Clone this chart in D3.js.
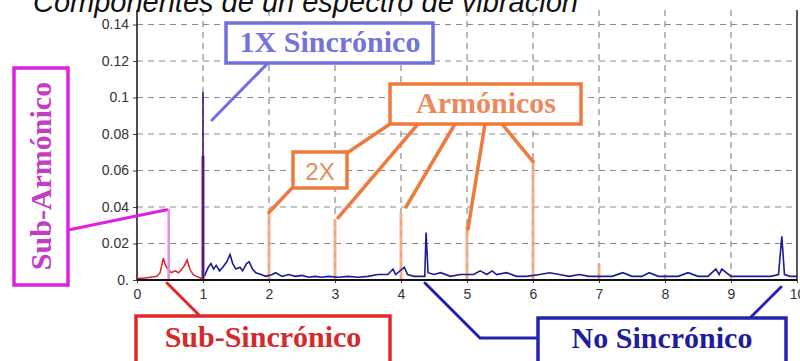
<!DOCTYPE html>
<html>
<head>
<meta charset="utf-8">
<script src="https://cdn.jsdelivr.net/npm/d3@7"></script>
<style>
  body { margin: 0; background: #fff; }
  svg { display: block; }
</style>
</head>
<body>
<div class="board"></div>
<script>
// DATA

var xTicks = [0, 1, 2, 3, 4, 5, 6, 7, 8, 9, 10];
var yTicks = [0, 0.02, 0.04, 0.06, 0.08, 0.1, 0.12, 0.14];
var yTickLabels = ['0.', '0.02', '0.04', '0.06', '0.08', '0.1', '0.12', '0.14'];

// sub-synchronous part of the spectrum (red), 0 - 1X
var subFreq = [0, 0.1, 0.2, 0.3, 0.35, 0.38, 0.4, 0.43, 0.47, 0.52, 0.58, 0.63, 0.68, 0.72, 0.76, 0.8, 0.85, 0.9, 0.97, 1.0];
var subAmp  = [0.001, 0.001, 0.0015, 0.002, 0.004, 0.009, 0.012, 0.008, 0.006, 0.004, 0.005, 0.004, 0.006, 0.008, 0.011, 0.006, 0.003, 0.002, 0.001, 0.001];

// sub-harmonic spike (about 0.5X)
var subHarmFreq = 0.48;
var subHarmAmp = 0.039;

// 1X synchronous spike
var oneXFreq = 1;
var oneXAmp = [0.103, 0.068];

// rest of the spectrum (blue), 1X - 10X
var restFreq = [1.02, 1.08, 1.12, 1.16, 1.2, 1.25, 1.3, 1.36, 1.41, 1.45, 1.5, 1.56, 1.6, 1.66, 1.7, 1.75, 1.8, 1.88, 1.95,
  2.05, 2.1, 2.2, 2.3, 2.4, 2.5, 2.6, 2.7, 2.8, 2.9, 3.05, 3.2, 3.35, 3.5, 3.65, 3.8, 3.88, 3.92, 4.05, 4.1, 4.2, 4.3,
  4.36, 4.38, 4.41, 4.5, 4.6, 4.75, 4.9, 5.1, 5.2, 5.3, 5.38, 5.45, 5.6, 5.75, 5.9, 6.1, 6.25, 6.4, 6.55, 6.7, 6.85,
  7.05, 7.2, 7.36, 7.5, 7.65, 7.76, 7.9, 8.1, 8.2, 8.35, 8.5, 8.65, 8.77, 8.82, 8.86, 9.0, 9.2, 9.4, 9.6, 9.72, 9.77, 9.81, 9.9, 10];
var restAmp  = [0.002, 0.007, 0.009, 0.006, 0.008, 0.005, 0.007, 0.01, 0.014, 0.009, 0.006, 0.007, 0.005, 0.009, 0.01, 0.006, 0.004, 0.003, 0.002,
  0.003, 0.004, 0.002, 0.003, 0.002, 0.0025, 0.0015, 0.002, 0.0015, 0.002, 0.0015, 0.002, 0.0015, 0.002, 0.003, 0.003, 0.006, 0.003, 0.007, 0.003, 0.002, 0.002,
  0.002, 0.026, 0.004, 0.003, 0.004, 0.002, 0.003, 0.003, 0.005, 0.003, 0.005, 0.003, 0.004, 0.002, 0.002, 0.003, 0.004, 0.003, 0.002, 0.003, 0.002,
  0.002, 0.002, 0.004, 0.002, 0.002, 0.004, 0.002, 0.002, 0.002, 0.004, 0.002, 0.002, 0.006, 0.003, 0.006, 0.002, 0.002, 0.002, 0.002, 0.003, 0.024, 0.003, 0.002, 0.002];

// harmonic spikes (orange)
var harmFreq = [2, 3, 4, 5, 6, 7, 8];
var harmAmp  = [0.037, 0.033, 0.037, 0.03, 0.066, 0.009, 0.003];

var title = 'Componentes de un espectro de vibración';

///BOARD

var W = 800, H = 361;
var svg = d3.select('.board').append('svg')
  .attr('width', W)
  .attr('height', H)
  .style('font-family', '"Liberation Sans", Arial, sans-serif');

var x = d3.scaleLinear().domain([0, 10]).range([137, 797]);
var y = d3.scaleLinear().domain([0, 0.14]).range([280, 24.5]);
var plotTop = 10;

// grid
svg.append('g').selectAll('line.h')
  .data(yTicks.slice(1))
  .enter().append('line')
  .attr('x1', x(0)).attr('x2', x(10))
  .attr('y1', function(d) { return y(d); })
  .attr('y2', function(d) { return y(d); })
  .attr('stroke', '#8a8a8a').attr('stroke-width', 1.2)
  .attr('stroke-dasharray', '6,5');

svg.append('g').selectAll('line.v')
  .data(xTicks.slice(1, -1))
  .enter().append('line')
  .attr('y1', y(0)).attr('y2', plotTop)
  .attr('x1', function(d) { return x(d); })
  .attr('x2', function(d) { return x(d); })
  .attr('stroke', '#8a8a8a').attr('stroke-width', 1.2)
  .attr('stroke-dasharray', '6,5');

// axes
var yAxis = d3.axisLeft(y).tickValues(yTicks)
  .tickFormat(function(d, i) { return yTickLabels[i]; })
  .tickSize(4).tickPadding(4);
var gy = svg.append('g').attr('transform', 'translate(' + x(0) + ',0)').call(yAxis);
var xAxis = d3.axisBottom(x).tickValues(xTicks).tickFormat(d3.format('d')).tickSize(3).tickPadding(6);
var gx = svg.append('g').attr('transform', 'translate(0,' + y(0) + ')').call(xAxis);
[gx, gy].forEach(function(g) {
  g.select('.domain').remove();
  g.selectAll('.tick line').attr('stroke', '#444');
  g.selectAll('.tick text').attr('fill', '#333')
    .style('font-size', '14px').style('font-family', '"Liberation Sans", Arial, sans-serif');
});

// frame
svg.append('line').attr('x1', x(0)).attr('x2', x(0)).attr('y1', plotTop).attr('y2', y(0))
  .attr('stroke', '#111').attr('stroke-width', 1.5);
svg.append('line').attr('x1', x(10)).attr('x2', x(10)).attr('y1', plotTop).attr('y2', y(0))
  .attr('stroke', '#222').attr('stroke-width', 1.5);

// spectrum
var line = d3.line()
  .x(function(d) { return x(d[0]); })
  .y(function(d) { return y(d[1]); });

var spike = function(f, a, color, width, opacity) {
  svg.append('path')
    .attr('d', line([[f, 0], [f, a]]))
    .attr('stroke', color).attr('stroke-width', width)
    .attr('stroke-opacity', opacity || 1).attr('fill', 'none');
};

harmFreq.forEach(function(f, i) { spike(f, harmAmp[i], '#f2a57c', 3, 0.85); });

svg.append('path')
  .attr('d', line(d3.zip(restFreq, restAmp)))
  .attr('fill', 'none').attr('stroke', '#1c1c96').attr('stroke-width', 1.6);

svg.append('path')
  .attr('d', line(d3.zip(subFreq, subAmp)))
  .attr('fill', 'none').attr('stroke', '#d8262a').attr('stroke-width', 1.5);

spike(subHarmFreq, subHarmAmp, '#e58ae5', 2.5);
spike(oneXFreq, oneXAmp[1], '#8a48b0', 3.2);
spike(oneXFreq, oneXAmp[0], '#4a0f6e', 1.6);

// x baseline
svg.append('line').attr('x1', x(0)).attr('x2', x(10)).attr('y1', y(0)).attr('y2', y(0))
  .attr('stroke', '#111').attr('stroke-width', 2);

// title (partly cut at the top)
svg.append('text')
  .attr('x', 33).attr('y', 12)
  .attr('fill', '#111')
  .style('font-size', '29px').style('font-style', 'italic')
  .text(title);

// ANNOTATIONS

var serif = '"Liberation Serif", "Times New Roman", serif';

var box = function(bx, by, bw, bh, color) {
  svg.append('rect').attr('x', bx).attr('y', by).attr('width', bw).attr('height', bh)
    .attr('fill', '#fff').attr('stroke', color).attr('stroke-width', 3.5);
};
var label = function(tx, ty, str, color, size, font, bold) {
  return svg.append('text').attr('x', tx).attr('y', ty)
    .attr('text-anchor', 'middle').attr('fill', color)
    .style('font-family', font).style('font-size', size + 'px')
    .style('font-weight', bold ? 'bold' : 'normal')
    .text(str);
};
var leader = function(pts, color, width) {
  svg.append('path').attr('d', d3.line()(pts))
    .attr('fill', 'none').attr('stroke', color).attr('stroke-width', width || 3)
    .attr('stroke-linecap', 'round');
};

// 1X
var blue1 = '#6f6fe0';
leader([[268, 63], [212, 120]], blue1);
box(226, 23, 207, 40, blue1);
label(330, 52, '1X Sincrónico', '#7373d9', 30, serif, true);

// harmonics
var orange = '#ee7a3e';
leader([[292, 188], [x(2), y(harmAmp[0])]], orange, 3.5);
leader([[347, 153], [390, 124]], orange, 3.5);
leader([[418, 124], [x(3) + 3, y(harmAmp[1]) - 2]], orange, 3.5);
leader([[455, 124], [x(4) + 5, y(0.04)]], orange, 3.5);
leader([[485, 124], [x(5) + 1, y(0.028)]], orange, 3.5);
leader([[502, 124], [x(6), y(harmAmp[4]) + 2]], orange, 3.5);
box(390, 84, 191, 40, orange);
label(486, 113, 'Armónicos', '#e98a5e', 30, serif, true);
box(293, 152, 54, 36, orange);
label(320, 180, '2X', '#e98a5e', 24, '"Liberation Sans", Arial, sans-serif', false);

// sub-harmonic
var magenta = '#e020e0';
leader([[68, 230], [x(subHarmFreq) - 2, y(subHarmAmp) + 1]], magenta);
box(14, 68, 54, 217, magenta);
label(0, 0, 'Sub-Armónico', '#c43cc4', 30, serif, true)
  .attr('transform', 'translate(51,176) rotate(-90)');

// sub-synchronous
var red = '#e02a2a';
leader([[167, 283], [200, 316]], red);
box(136, 316, 254, 60, red);
label(263, 347, 'Sub-Sincrónico', '#d42a2a', 30, serif, true);

// non-synchronous
var navy = '#2323b0';
leader([[425, 283], [480, 338], [538, 338]], navy);
leader([[781, 287], [750, 318]], navy);
box(538, 318, 248, 60, navy);
label(662, 348, 'No Sincrónico', '#1e1e9a', 30, serif, true);
</script>
</body>
</html>
